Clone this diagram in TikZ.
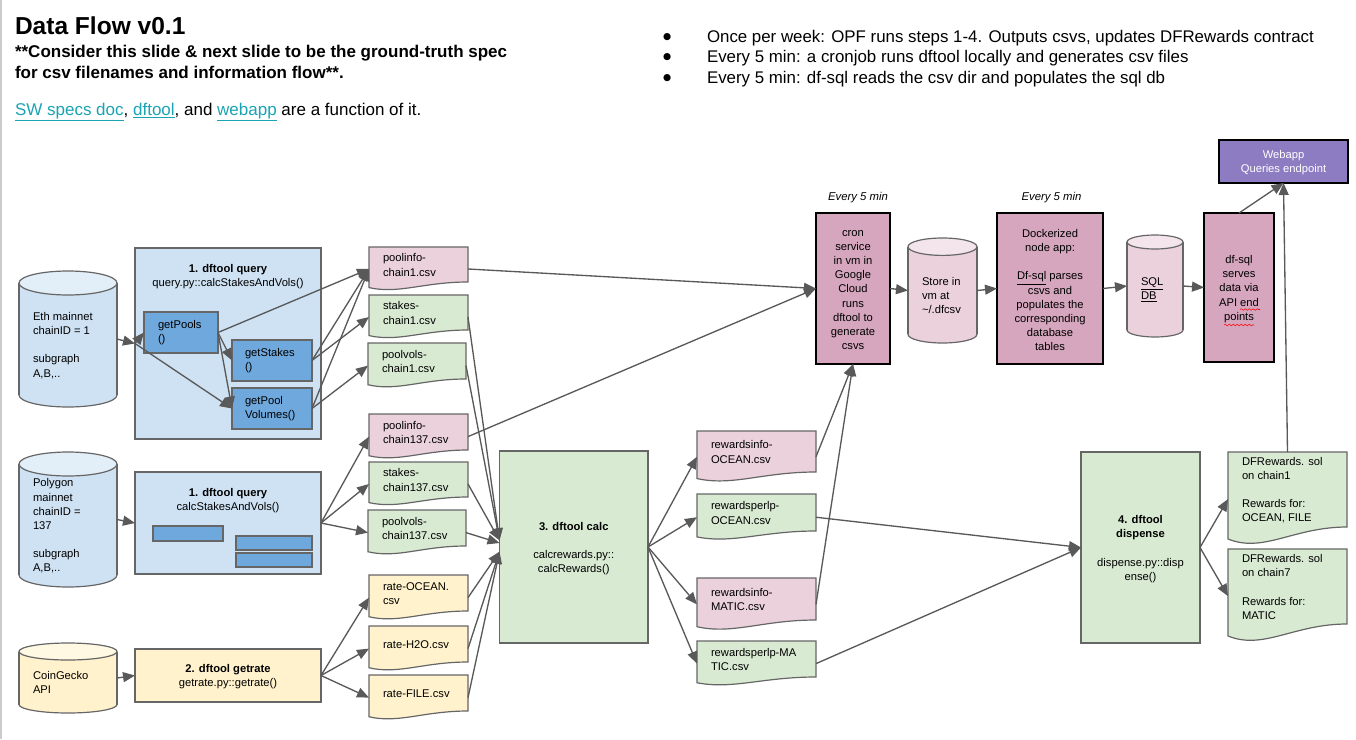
\documentclass[tikz,border=0pt]{standalone}
\usepackage{fontspec}
\setmainfont{Liberation Sans}
\newfontfamily\bulletfont{DejaVu Sans}
\usetikzlibrary{arrows.meta,decorations.pathmorphing}
\definecolor{linegrey}{HTML}{595959}
\definecolor{edgegrey}{HTML}{666666}
\definecolor{sheetblue}{HTML}{CFE2F3}
\definecolor{capblue}{HTML}{E2EEF8}
\definecolor{innerblue}{HTML}{6FA8DC}
\definecolor{sheetgreen}{HTML}{D9EAD3}
\definecolor{sheetpink}{HTML}{EAD1DC}
\definecolor{cappink}{HTML}{F3E5EB}
\definecolor{sheetyellow}{HTML}{FFF2CC}
\definecolor{capyellow}{HTML}{FFF8E3}
\definecolor{sheetmauve}{HTML}{D5A6BD}
\definecolor{sheetpurple}{HTML}{8E7CC3}
\definecolor{linkteal}{HTML}{1AA3B3}
\newcommand{\linktext}[1]{\textcolor{linkteal}{\underline{#1}}}
\tikzset{
  flow/.style={draw=linegrey,line width=1pt,-{Triangle[length=9pt,width=7.5pt]}},
  spellwave/.style={red,line width=0.4pt,decorate,decoration={snake,amplitude=0.6pt,segment length=3pt}},
  bodytext/.style={inner sep=0pt,outer sep=0pt,font=\fontsize{8.4}{10.6}\selectfont,align=center},
  slot/.style={inner sep=0pt,outer sep=0pt,minimum width=0pt,minimum height=0pt},
  boxgrey/.style={draw=edgegrey,line width=0.9pt,inner sep=0pt,outer sep=0pt},
  boxblack/.style={draw=black,line width=1pt,fill=sheetmauve,inner sep=0pt,outer sep=0pt},
  headtext/.style={inner sep=0pt,outer sep=0pt,anchor=west,align=left},
  bullettext/.style={inner sep=0pt,outer sep=0pt,anchor=west,font=\fontsize{12.65}{15}\selectfont},
  smallnote/.style={inner sep=0pt,outer sep=0pt,font=\fontsize{8.5}{10}\selectfont\itshape}
}
\newcommand{\boxat}[7]{% style, name, x, y, w, h, text
  \node[#1,minimum width=#5*0.75pt,minimum height=#6*0.75pt] (#2) at (#3+#5/2,#4+#6/2) {};
  \node[bodytext] (#2text) at (#3+#5/2,#4+#6/2+1.5) {#7};}
\newcommand{\csvdoc}[7]{% name, x, y, w, h, fill, text
  \draw[edgegrey,line width=0.9pt,fill=#6] (#2,#3) -- (#2+#4,#3) -- (#2+#4,#3+#5)
    .. controls (#2+0.55*#4,#3+#5) and (#2+0.3*#4,#3+#5+0.16*#5*2.2) .. (#2,#3+#5+0.16*#5) -- cycle;
  \node[slot,minimum width=#4*0.75pt,minimum height=(#5*1.256)*0.75pt] (#1) at (#2+#4/2,#3+#5*0.628) {};
  \node[bodytext,anchor=west,align=left] (#1text) at (#2+14,#3+#5/2+0.5) {#7};}
\newcommand{\dbnode}[9]{% name, x, y, w, h, cap radius, body, cap, text
  \draw[edgegrey,line width=0.9pt,fill=#7] (#2+#4/2,#3+#5-#6) ellipse [x radius=#4/2,y radius=#6];
  \fill[#7] (#2,#3+#6) rectangle (#2+#4,#3+#5-#6);
  \draw[edgegrey,line width=0.9pt] (#2,#3+#6) -- (#2,#3+#5-#6) (#2+#4,#3+#6) -- (#2+#4,#3+#5-#6);
  \draw[edgegrey,line width=0.9pt,fill=#8] (#2+#4/2,#3+#6) ellipse [x radius=#4/2,y radius=#6];
  \node[slot,minimum width=#4*0.75pt,minimum height=#5*0.75pt] (#1) at (#2+#4/2,#3+#5/2) {};
  \node[bodytext,anchor=west,align=left] (#1text) at (#2+14,#3+#5/2+#6/2+0.5) {#9};}
\begin{document}
\begin{tikzpicture}[x=0.75pt,y=-0.75pt]
\useasboundingbox (0,0) rectangle (1356,739);
\fill[black!20] (0,0) rectangle (1.5,739);

\node[headtext,font=\fontsize{18.4}{22}\selectfont\bfseries] (title) at (15,26) {Data Flow v0.1};
\node[headtext,font=\fontsize{12.75}{15.8}\selectfont\bfseries] (truth) at (15,61.5) {**Consider this slide \& next slide to be the ground-truth spec\\for csv filenames and information flow**.};
\node[headtext,font=\fontsize{12.75}{15}\selectfont] (specs) at (15,112) {\linktext{SW specs doc}, \linktext{dftool}, and \linktext{webapp} are a function of it.};

\node[bullettext,font=\bulletfont\fontsize{7}{8}\selectfont] (dota) at (663,37) {●};
\node[bullettext,font=\bulletfont\fontsize{7}{8}\selectfont] (dotb) at (663,57.5) {●};
\node[bullettext,font=\bulletfont\fontsize{7}{8}\selectfont] (dotc) at (663,78) {●};
\node[bullettext] (notea) at (707,38) {Once per week: OPF runs steps 1-4. Outputs csvs, updates DFRewards contract};
\node[bullettext] (noteb) at (707,58.5) {Every 5 min: a cronjob runs dftool locally and generates csv files};
\node[bullettext] (notec) at (707,79) {Every 5 min: df-sql reads the csv dir and populates the sql db};

\dbnode{ethdb}{19}{271}{98}{136}{12}{sheetblue}{capblue}{Eth mainnet\\chainID = 1\\[10.6pt]subgraph\\A,B,..}
\dbnode{polydb}{19}{452}{98}{135}{12}{sheetblue}{capblue}{Polygon\\mainnet\\chainID =\\137\\[10.6pt]subgraph\\A,B,..}
\dbnode{geckodb}{19}{643}{98}{70}{8.5}{sheetyellow}{capyellow}{CoinGecko\\API}

\boxat{boxgrey,fill=sheetblue}{querya}{135}{248}{186}{191}{}
\node[bodytext] (queryalabel) at (228,276.5) {\textbf{1. dftool query}\\query.py::calcStakesAndVols()};
\boxat{boxgrey,fill=innerblue}{getpools}{144}{312}{74}{41}{}
\node[bodytext,anchor=west,align=left] (getpoolslabel) at (158,333) {getPools\\()};
\boxat{boxgrey,fill=innerblue}{getstakes}{232}{340}{80}{41}{}
\node[bodytext,anchor=west,align=left] (getstakeslabel) at (245,361) {getStakes\\()};
\boxat{boxgrey,fill=innerblue}{getvols}{232}{388}{80}{41}{}
\node[bodytext,anchor=west,align=left] (getvolslabel) at (245,409) {getPool\\Volumes()};

\boxat{boxgrey,fill=sheetblue}{queryb}{135}{472}{186}{102}{}
\node[bodytext] (queryblabel) at (228,501) {\textbf{1. dftool query}\\calcStakesAndVols()};
\boxat{boxgrey,fill=innerblue}{slota}{153}{526}{70}{15}{}
\boxat{boxgrey,fill=innerblue}{slotb}{236}{536}{76}{14}{}
\boxat{boxgrey,fill=innerblue}{slotc}{236}{553}{76}{14}{}

\boxat{boxgrey,fill=sheetyellow}{getrate}{135}{649}{186}{53}{\textbf{2. dftool getrate}\\getrate.py::getrate()}

\csvdoc{poolinfoa}{369}{247}{99}{35}{sheetpink}{poolinfo-\\chain1.csv}
\csvdoc{stakesa}{369}{295}{99}{35}{sheetgreen}{stakes-\\chain1.csv}
\csvdoc{poolvolsa}{368}{343}{98}{36}{sheetgreen}{poolvols-\\chain1.csv}
\csvdoc{poolinfob}{369}{414}{99}{36}{sheetpink}{poolinfo-\\chain137.csv}
\csvdoc{stakesb}{369}{462}{99}{35}{sheetgreen}{stakes-\\chain137.csv}
\csvdoc{poolvolsb}{368}{510}{98}{36}{sheetgreen}{poolvols-\\chain137.csv}
\csvdoc{rateocean}{369}{575}{99}{36}{sheetyellow}{rate-OCEAN.\\csv}
\csvdoc{ratehtwo}{369}{626}{99}{36}{sheetyellow}{rate-H2O.csv}
\csvdoc{ratefile}{369}{675}{99}{36}{sheetyellow}{rate-FILE.csv}

\boxat{boxgrey,fill=sheetgreen}{calc}{499.5}{451}{148.5}{192}{\textbf{3. dftool calc}\\[10.6pt]calcrewards.py::\\calcRewards()}

\csvdoc{infoocean}{697}{431}{119}{41}{sheetpink}{rewardsinfo-\\OCEAN.csv}
\csvdoc{lpocean}{697}{494}{119}{37}{sheetgreen}{rewardsperlp-\\OCEAN.csv}
\csvdoc{infomatic}{697}{578}{119}{42}{sheetpink}{rewardsinfo-\\MATIC.csv}
\csvdoc{lpmatic}{697}{641}{119}{36}{sheetgreen}{rewardsperlp-MA\\TIC.csv}

\boxat{boxgrey,fill=sheetgreen}{dispense}{1081}{452}{119}{191}{\textbf{4. dftool}\\\textbf{dispense}\\[10.6pt]dispense.py::disp\\ense()}

\csvdoc{rewardsa}{1228}{452}{119}{75}{sheetgreen}{DFRewards. sol\\on chain1\\[10.6pt]Rewards for:\\OCEAN, FILE}
\csvdoc{rewardsb}{1228}{549}{119}{75}{sheetgreen}{DFRewards. sol\\on chain7\\[10.6pt]Rewards for:\\MATIC}

\node[smallnote] (cronnote) at (858,198) {Every 5 min};
\node[smallnote] (dockernote) at (1051.5,198) {Every 5 min};
\boxat{boxblack}{cron}{816}{213}{74}{151}{cron\\service\\in vm in\\Google\\Cloud\\runs\\dftool to\\generate\\csvs}
\dbnode{store}{908}{238}{69}{105}{8.7}{sheetpink}{cappink}{Store in\\vm at\\\textasciitilde/.dfcsv}
\boxat{boxblack}{docker}{997}{213}{106}{151}{Dockerized\\node app:\\[10.6pt]\underline{Df-sql} parses\\csvs and\\populates the\\corresponding\\database\\tables}
\dbnode{sqldb}{1127}{235}{56}{102}{7}{sheetpink}{cappink}{\underline{SQL}\\\underline{DB}}
\boxat{boxblack}{dfsql}{1204}{213}{70}{149}{df-sql\\serves\\data via\\API end\\points}
\draw[spellwave] (1240,309.5) -- (1260,309.5);
\draw[spellwave] (1224,325) -- (1254,325);
\node[draw=black,line width=1pt,fill=sheetpurple,inner sep=0pt,outer sep=0pt,minimum width=129*0.75pt,minimum height=43*0.75pt] (webapp) at (1283.5,161.5) {};
\node[bodytext,text=white] (webapptext) at (1283.5,163) {Webapp\\Queries endpoint};

\draw[flow] (ethdb.east) -- (querya.west);
\draw[flow] (querya.west) -- (getpools.west);
\draw[flow] (querya.west) -- (getvols.west);
\draw[flow] (getpools.east) -- (getstakes.west);
\draw[flow] (getpools.east) -- (getvols.west);
\draw[flow] (getpools.east) -- (poolinfoa.west);
\draw[flow] (getstakes.east) -- (poolinfoa.west);
\draw[flow] (getstakes.east) -- (stakesa.west);
\draw[flow] (getvols.east) -- (poolinfoa.west);
\draw[flow] (getvols.east) -- (poolvolsa.west);
\draw[flow] (polydb.east) -- (queryb.west);
\draw[flow] (queryb.east) -- (poolinfob.west);
\draw[flow] (queryb.east) -- (stakesb.west);
\draw[flow] (queryb.east) -- (poolvolsb.west);
\draw[flow] (geckodb.east) -- (getrate.west);
\draw[flow] (getrate.east) -- (rateocean.west);
\draw[flow] (getrate.east) -- (ratehtwo.west);
\draw[flow] (getrate.east) -- (ratefile.west);
\draw[flow] (stakesa.east) -- ([yshift=5pt]calc.west);
\draw[flow] (poolvolsa.east) -- ([yshift=5pt]calc.west);
\draw[flow] (stakesb.east) -- ([yshift=5pt]calc.west);
\draw[flow] (poolvolsb.east) -- ([yshift=3pt]calc.west);
\draw[flow] (rateocean.east) -- ([yshift=-3.5pt]calc.west);
\draw[flow] (ratehtwo.east) -- ([yshift=-3.5pt]calc.west);
\draw[flow] (ratefile.east) -- ([yshift=-3.5pt]calc.west);
\draw[flow] (calc.east) -- (infoocean.west);
\draw[flow] (calc.east) -- (lpocean.west);
\draw[flow] (calc.east) -- (infomatic.west);
\draw[flow] (calc.east) -- (lpmatic.west);
\draw[flow] (poolinfoa.east) -- (cron.west);
\draw[flow] (poolinfob.east) -- (cron.west);
\draw[flow] (infoocean.east) -- (cron.south);
\draw[flow] (infomatic.east) -- (cron.south);
\draw[flow] (lpocean.east) -- (dispense.west);
\draw[flow] (lpmatic.east) -- (dispense.west);
\draw[flow] (dispense.east) -- (rewardsa.west);
\draw[flow] (dispense.east) -- (rewardsb.west);
\draw[flow] (rewardsa.north) -- (webapp.south);
\draw[flow] (cron.east) -- (store.west);
\draw[flow] (store.east) -- (docker.west);
\draw[flow] (docker.east) -- (sqldb.west);
\draw[flow] (sqldb.east) -- (dfsql.west);
\draw[flow] (dfsql.north) -- (webapp.south);
\end{tikzpicture}
\end{document}
